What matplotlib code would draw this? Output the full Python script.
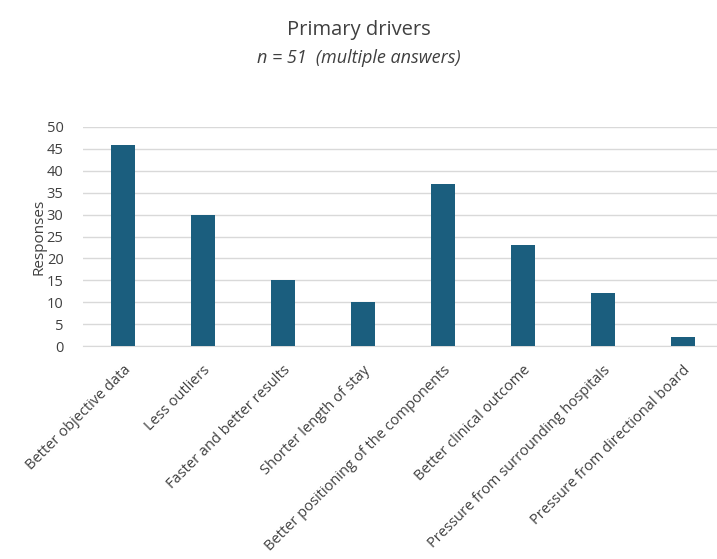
import matplotlib.pyplot as plt
import numpy as np

categories = ["Better objective data", "Less outliers", "Faster and better results",
              "Shorter length of stay", "Better positioning of the components",
              "Better clinical outcome", "Pressure from surrounding hospitals",
              "Pressure from directional board"]
responses = [46, 30, 15, 10, 37, 23, 12, 2]

plt.rcParams['font.family'] = ['Open Sans', 'DejaVu Sans']

fig = plt.figure(figsize=(7.17, 5.59), dpi=100)
ax = fig.add_axes([83 / 717, 1 - 346 / 559, 1 - 83 / 717, (346 - 127) / 559])

x = np.arange(len(categories))
ax.bar(x, responses, width=0.31, color="#1b5e7e", zorder=3)

ax.set_ylim(0, 50)
ax.set_yticks(range(0, 51, 5))
ax.set_xlim(-0.5, 7.425)
ax.set_xticks(x)
ax.set_xticklabels(categories, rotation=45, ha="right", rotation_mode="anchor",
                   fontsize=10.5, color="#404040")
ax.tick_params(axis="y", length=0, labelsize=10.5, labelcolor="#404040", pad=14)
ax.tick_params(axis="x", length=0, pad=12)
ax.grid(axis="y", color="#d9d9d9", linewidth=1, zorder=0)
for s in ["top", "right", "left"]:
    ax.spines[s].set_visible(False)
ax.spines["bottom"].set_color("#d9d9d9")
ax.set_ylabel("Responses", fontsize=11, color="#404040", labelpad=0)

fig.text(0.5, 1 - 30 / 559, "Primary drivers", ha="center", va="center",
         fontsize=14.5, color="#404040")
fig.text(0.5, 1 - 58 / 559, "n = 51  (multiple answers)", ha="center", va="center",
         fontsize=13, style="italic", color="#404040")

fig.savefig("out.png", dpi=100)
